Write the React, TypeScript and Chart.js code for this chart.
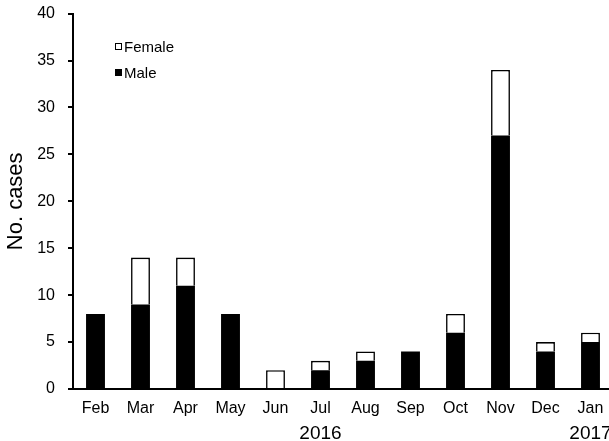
import React, { useEffect, useRef } from 'react';
import { Chart, registerables } from 'chart.js';

Chart.register(...registerables);

const months = ['Feb', 'Mar', 'Apr', 'May', 'Jun', 'Jul', 'Aug', 'Sep', 'Oct', 'Nov', 'Dec', 'Jan'];
const yearLabels = ['', '', '', '', '', '2016', '', '', '', '', '', '2017'];
const male = [8, 9, 11, 8, 0, 2, 3, 4, 6, 27, 4, 5];
const female = [0, 5, 3, 0, 2, 1, 1, 0, 2, 7, 1, 1];
const yMin = 0;
const yMax = 40;
const yStep = 5;

const FONT = '"Liberation Sans", Arial, sans-serif';

export default function App() {
  const canvasRef = useRef<HTMLCanvasElement | null>(null);

  useEffect(() => {
    if (!canvasRef.current) return;
    const chart = new Chart(canvasRef.current, {
      type: 'bar',
      data: {
        labels: months,
        datasets: [
          {
            label: 'Male',
            data: male,
            backgroundColor: '#000000',
            borderColor: '#000000',
            borderWidth: 0,
            categoryPercentage: 1,
            barPercentage: 0.42,
          },
          {
            label: 'Female',
            data: female,
            backgroundColor: '#ffffff',
            borderColor: '#000000',
            borderWidth: 1.6,
            categoryPercentage: 1,
            barPercentage: 0.42,
          },
        ],
      },
      options: {
        animation: false,
        responsive: true,
        maintainAspectRatio: false,
        layout: { padding: { top: 0, right: 27, left: 0, bottom: 0 } },
        plugins: {
          legend: { display: false },
          tooltip: { enabled: false },
        },
        scales: {
          x: {
            stacked: true,
            offset: true,
            grid: { display: false, drawTicks: false },
            border: { display: true, color: '#000', width: 2 },
            ticks: {
              color: '#000',
              font: { family: FONT, size: 16 },
              padding: 10,
              maxRotation: 0,
              autoSkip: false,
            },
            afterFit: (s: any) => {
              s.height = 27;
            },
          },
          x2: {
            type: 'category',
            labels: yearLabels,
            position: 'bottom',
            offset: true,
            grid: { display: false, drawTicks: false },
            border: { display: false },
            ticks: {
              color: '#000',
              font: { family: FONT, size: 19 },
              padding: 6,
              maxRotation: 0,
              autoSkip: false,
            },
            afterFit: (s: any) => {
              s.height = 25;
            },
          },
          y: {
            stacked: true,
            min: yMin,
            max: yMax,
            ticks: {
              stepSize: yStep,
              color: '#000',
              font: { family: FONT, size: 16 },
              padding: 13,
            },
            grid: {
              display: true,
              drawOnChartArea: false,
              drawTicks: true,
              tickLength: 5,
              color: '#000',
              lineWidth: 2,
            },
            border: { display: true, color: '#000', width: 2 },
            title: {
              display: true,
              text: 'No. cases',
              color: '#000',
              font: { family: FONT, size: 22 },
              padding: { top: 3, bottom: 0 },
            },
            afterFit: (s: any) => {
              s.width = 73;
            },
          },
        },
      },
    });
    return () => chart.destroy();
  }, []);

  const legendRow = (label: string, fill: string, top: number) => (
    <div
      style={{
        position: 'absolute',
        left: 115,
        top,
        height: 16,
        display: 'flex',
        alignItems: 'center',
        fontFamily: FONT,
        fontSize: 15,
        color: '#000',
        whiteSpace: 'nowrap',
      }}
    >
      <span
        style={{
          display: 'inline-block',
          width: 7,
          height: 7,
          boxSizing: 'border-box',
          background: fill,
          border: '1px solid #000',
          marginRight: 2,
        }}
      />
      <span>{label}</span>
    </div>
  );

  return (
    <div
      style={{
        position: 'fixed',
        left: 0,
        top: 0,
        width: 609,
        height: 441,
        overflow: 'hidden',
        background: '#fff',
      }}
    >
      <div style={{ position: 'absolute', left: 0, top: -9, width: 640, height: 450 }}>
        <canvas ref={canvasRef} />
      </div>
      {legendRow('Female', '#ffffff', 38)}
      {legendRow('Male', '#000000', 64)}
    </div>
  );
}
